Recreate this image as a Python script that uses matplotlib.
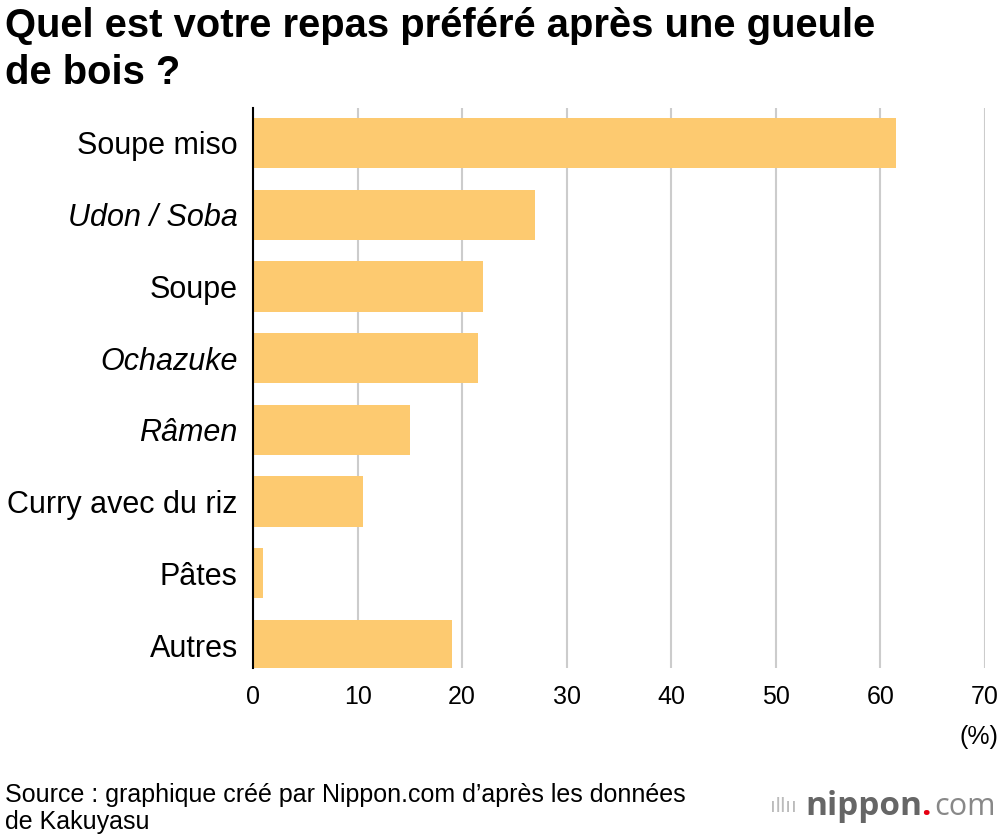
import matplotlib
matplotlib.use("Agg")
import matplotlib.pyplot as plt
import numpy as np

# Données du graphique
categories = ["Soupe miso", "Udon / Soba", "Soupe", "Ochazuke", "Râmen",
              "Curry avec du riz", "Pâtes", "Autres"]
italique = [False, True, False, True, True, False, False, False]
valeurs = [61.5, 27.0, 22.0, 21.5, 15.0, 10.5, 1.0, 19.0]
xticks = [0, 10, 20, 30, 40, 50, 60, 70]

plt.rcParams['font.family'] = ['Liberation Sans', 'DejaVu Sans']

fig = plt.figure(figsize=(10, 8.36), dpi=100)
ax = fig.add_axes([0.253, 0.201, 0.732, 0.670])

y = np.arange(len(categories))
ax.barh(y, valeurs, height=0.7, color="#FDCA70", zorder=2)

ax.set_xlim(0, 70)
ax.set_ylim(7.32, -0.49)
ax.set_xticks(xticks)
ax.set_xticklabels([str(t) for t in xticks], fontsize=18)
ax.set_yticks(y)
ax.set_yticklabels(categories, fontsize=22)
for lab, it in zip(ax.get_yticklabels(), italique):
    if it:
        lab.set_style("italic")

ax.grid(axis="x", color="#cccccc", linewidth=1.5, zorder=0)
for s in ["top", "right", "bottom"]:
    ax.spines[s].set_visible(False)
ax.spines["left"].set_linewidth(1.5)
ax.spines["left"].set_color("black")
ax.spines["left"].set_zorder(3)
ax.tick_params(axis="x", length=0, pad=12)
ax.tick_params(axis="y", length=0, pad=11)

fig.text(0.998, 0.118, "(%)", fontsize=18, ha="right", va="center")

fig.text(0.005, 0.992, "Quel est votre repas préféré après une gueule\nde bois ?",
         fontsize=28.8, fontweight="bold", ha="left", va="top", linespacing=1.32)

fig.text(0.005, 0.033, "Source : graphique créé par Nippon.com d’après les données\nde Kakuyasu",
         fontsize=18, ha="left", va="center", linespacing=1.2)

# logo
fig.text(0.770, 0.035, "ıllıı", fontsize=15, color="#bbbbbb", ha="left", va="center")
fig.text(0.805, 0.035, "nippon", fontsize=24, fontweight="bold", color="#666666",
         ha="left", va="center", family=["Open Sans", "DejaVu Sans"])
fig.text(0.931, 0.035, ".", fontsize=24, fontweight="bold", color="#e60012",
         ha="right", va="center", family=["Open Sans", "DejaVu Sans"])
fig.text(0.934, 0.035, "com", fontsize=22, color="#888888",
         ha="left", va="center", family=["Open Sans", "DejaVu Sans"])

fig.savefig("out.png", dpi=100)
